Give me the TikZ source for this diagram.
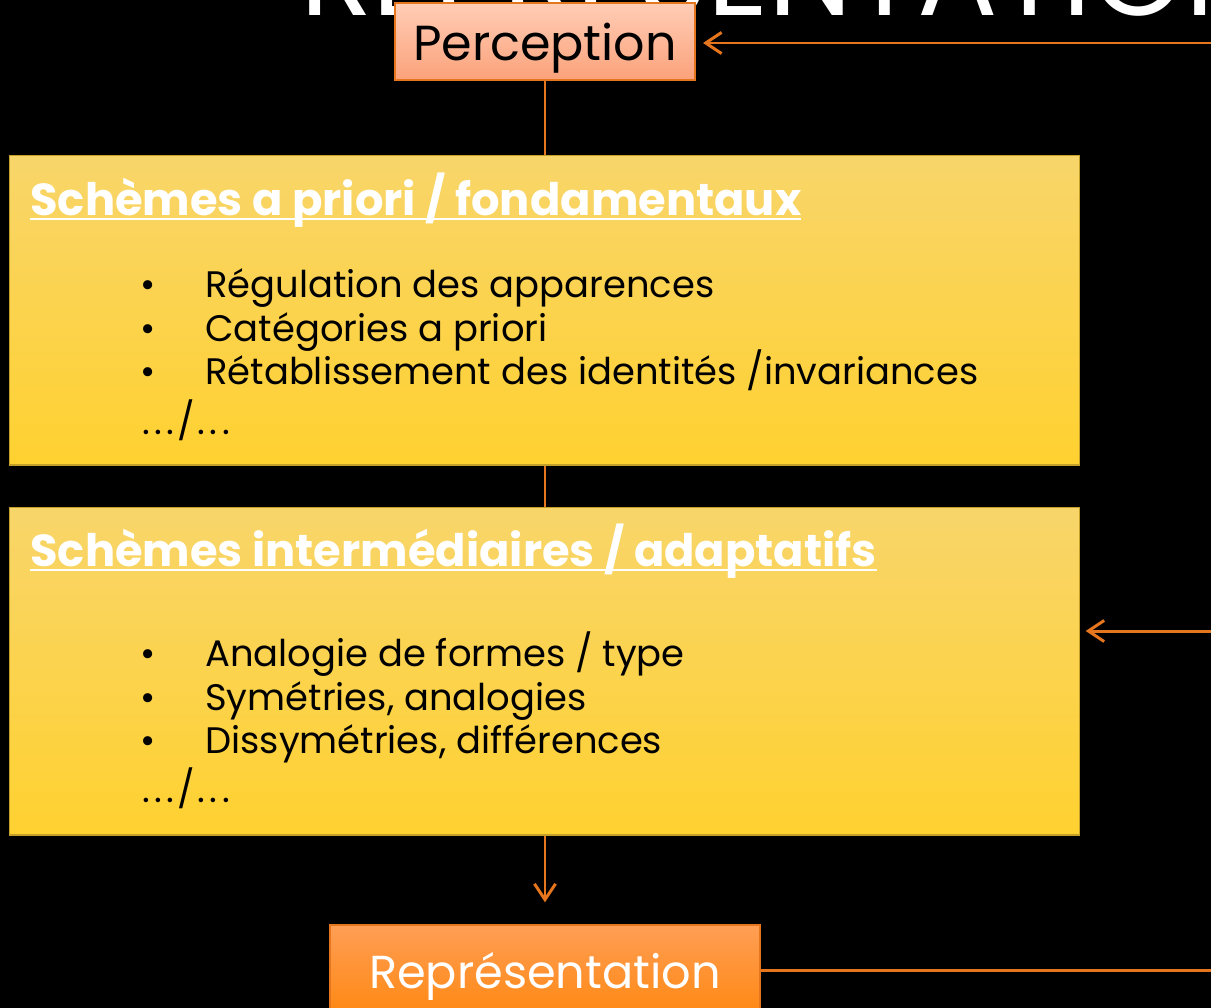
\documentclass[tikz,border=0pt]{standalone}
\usepackage{fontspec}
\setmainfont{Poppins}
\usetikzlibrary{arrows.meta}
\definecolor{traitorange}{RGB}{230,118,30}
\definecolor{bordjaune}{RGB}{196,160,40}
\definecolor{jaunehaut}{RGB}{248,213,106}
\definecolor{jaunebas}{RGB}{255,209,48}
\definecolor{saumonhaut}{RGB}{255,205,182}
\definecolor{saumonbas}{RGB}{251,162,122}
\definecolor{orangehaut}{RGB}{255,158,85}
\definecolor{orangebas}{RGB}{255,136,18}
\newcommand{\souligne}[1]{\setbox0\hbox{#1}\rlap{\copy0}\rule[-2.8pt]{\wd0}{1.3pt}}
\newcommand{\puce}{\llap{\textbullet\hspace{28pt}}}
\newcommand{\etc}{.\kern2.6pt.\kern2.6pt.\kern1.5pt/\kern1.5pt.\kern2.6pt.\kern2.6pt.}
\tikzstyle{schemebox} = [rectangle, draw=bordjaune, line width=0.6pt,
    top color=jaunehaut, bottom color=jaunebas,
    minimum width=21.42cm, inner sep=0pt]
\tikzstyle{percept} = [rectangle, draw=traitorange, line width=1.2pt,
    top color=saumonhaut, bottom color=saumonbas, text=black,
    minimum width=6cm, minimum height=1.54cm, inner sep=0pt, text depth=0pt,
    font=\fontsize{28}{30}\selectfont]
\tikzstyle{represent} = [rectangle, draw=traitorange, line width=0.8pt,
    top color=orangehaut, bottom color=orangebas, text=white,
    minimum width=8.6cm, minimum height=1.8cm, inner sep=0pt, text depth=0pt,
    font=\fontsize{26.3}{28}\selectfont]
\tikzstyle{boxtitle} = [anchor=base west, inner sep=0pt, text=white,
    font=\fontsize{25.5}{28}\selectfont\bfseries]
\tikzstyle{item} = [anchor=base west, inner sep=0pt, text=black,
    font=\fontsize{21}{24}\selectfont]
\tikzset{
  myarrow/.style={-{Straight Barb[length=9pt,width=12pt]}, draw=traitorange, line width=1.7pt},
  myline/.style={draw=traitorange, line width=1.7pt},
	}

\begin{document}
\begin{tikzpicture}[x=0.02cm, y=-0.02cm]
    \fill[black] (0,0) rectangle (1211,1008);
    \useasboundingbox (0,0) rectangle (1211,1008);
    \clip (0,0) rectangle (1211,1008);
    \node[anchor=base west, inner sep=0pt, text=white, font=\fontsize{68}{72}\selectfont](title) at (300,15){REPRESENTATION};
    \node[percept](perception) at (545,41.5){Perception};
    \node[schemebox, minimum height=6.2cm](apriori) at (544.5,310){};
    \node[schemebox, minimum height=6.56cm](interm) at (544.5,671){};
    \node[represent](representation) at (545,970){Représentation};
    % schemes a priori
    \node[boxtitle](apriorititle) at (30,215){\souligne{Schèmes a priori / fondamentaux}};
    \node[item](reg) at (205,297){\puce Régulation des apparences};
    \node[item](cat) at (205,341){\puce Catégories a priori};
    \node[item](ret) at (205,384){\puce Rétablissement des identités /invariances};
    \node[item](etc1) at (142,434){\etc};
    % schemes intermediaires
    \node[boxtitle](intermtitle) at (30,566){\souligne{Schèmes intermédiaires / adaptatifs}};
    \node[item](ana) at (205,666){\puce Analogie de formes / type};
    \node[item](sym) at (205,710){\puce Symétries, analogies};
    \node[item](dis) at (205,753){\puce Dissymétries, différences};
    \node[item](etc2) at (142,802){\etc};
    % connecteurs
    \coordinate (rethaut) at (1215,43);
    \coordinate (retmilieu) at (1215,631);
    \coordinate (retbas) at (1215,970);
    \draw[myarrow, shorten >=4pt](rethaut)--(rethaut -| perception.east);
    \draw[myline](perception.south)--(apriori.north -| perception.south);
    \draw[myline](apriori.south -| perception.south)--(interm.north -| perception.south);
    \draw[myarrow, shorten >=12.5pt](interm.south -| representation.north)--(representation.north);
    \draw[myarrow, shorten >=3pt](retmilieu)--(retmilieu -| interm.east);
    \draw[myline](representation.east)--(retbas);
  \end{tikzpicture}
\end{document}
